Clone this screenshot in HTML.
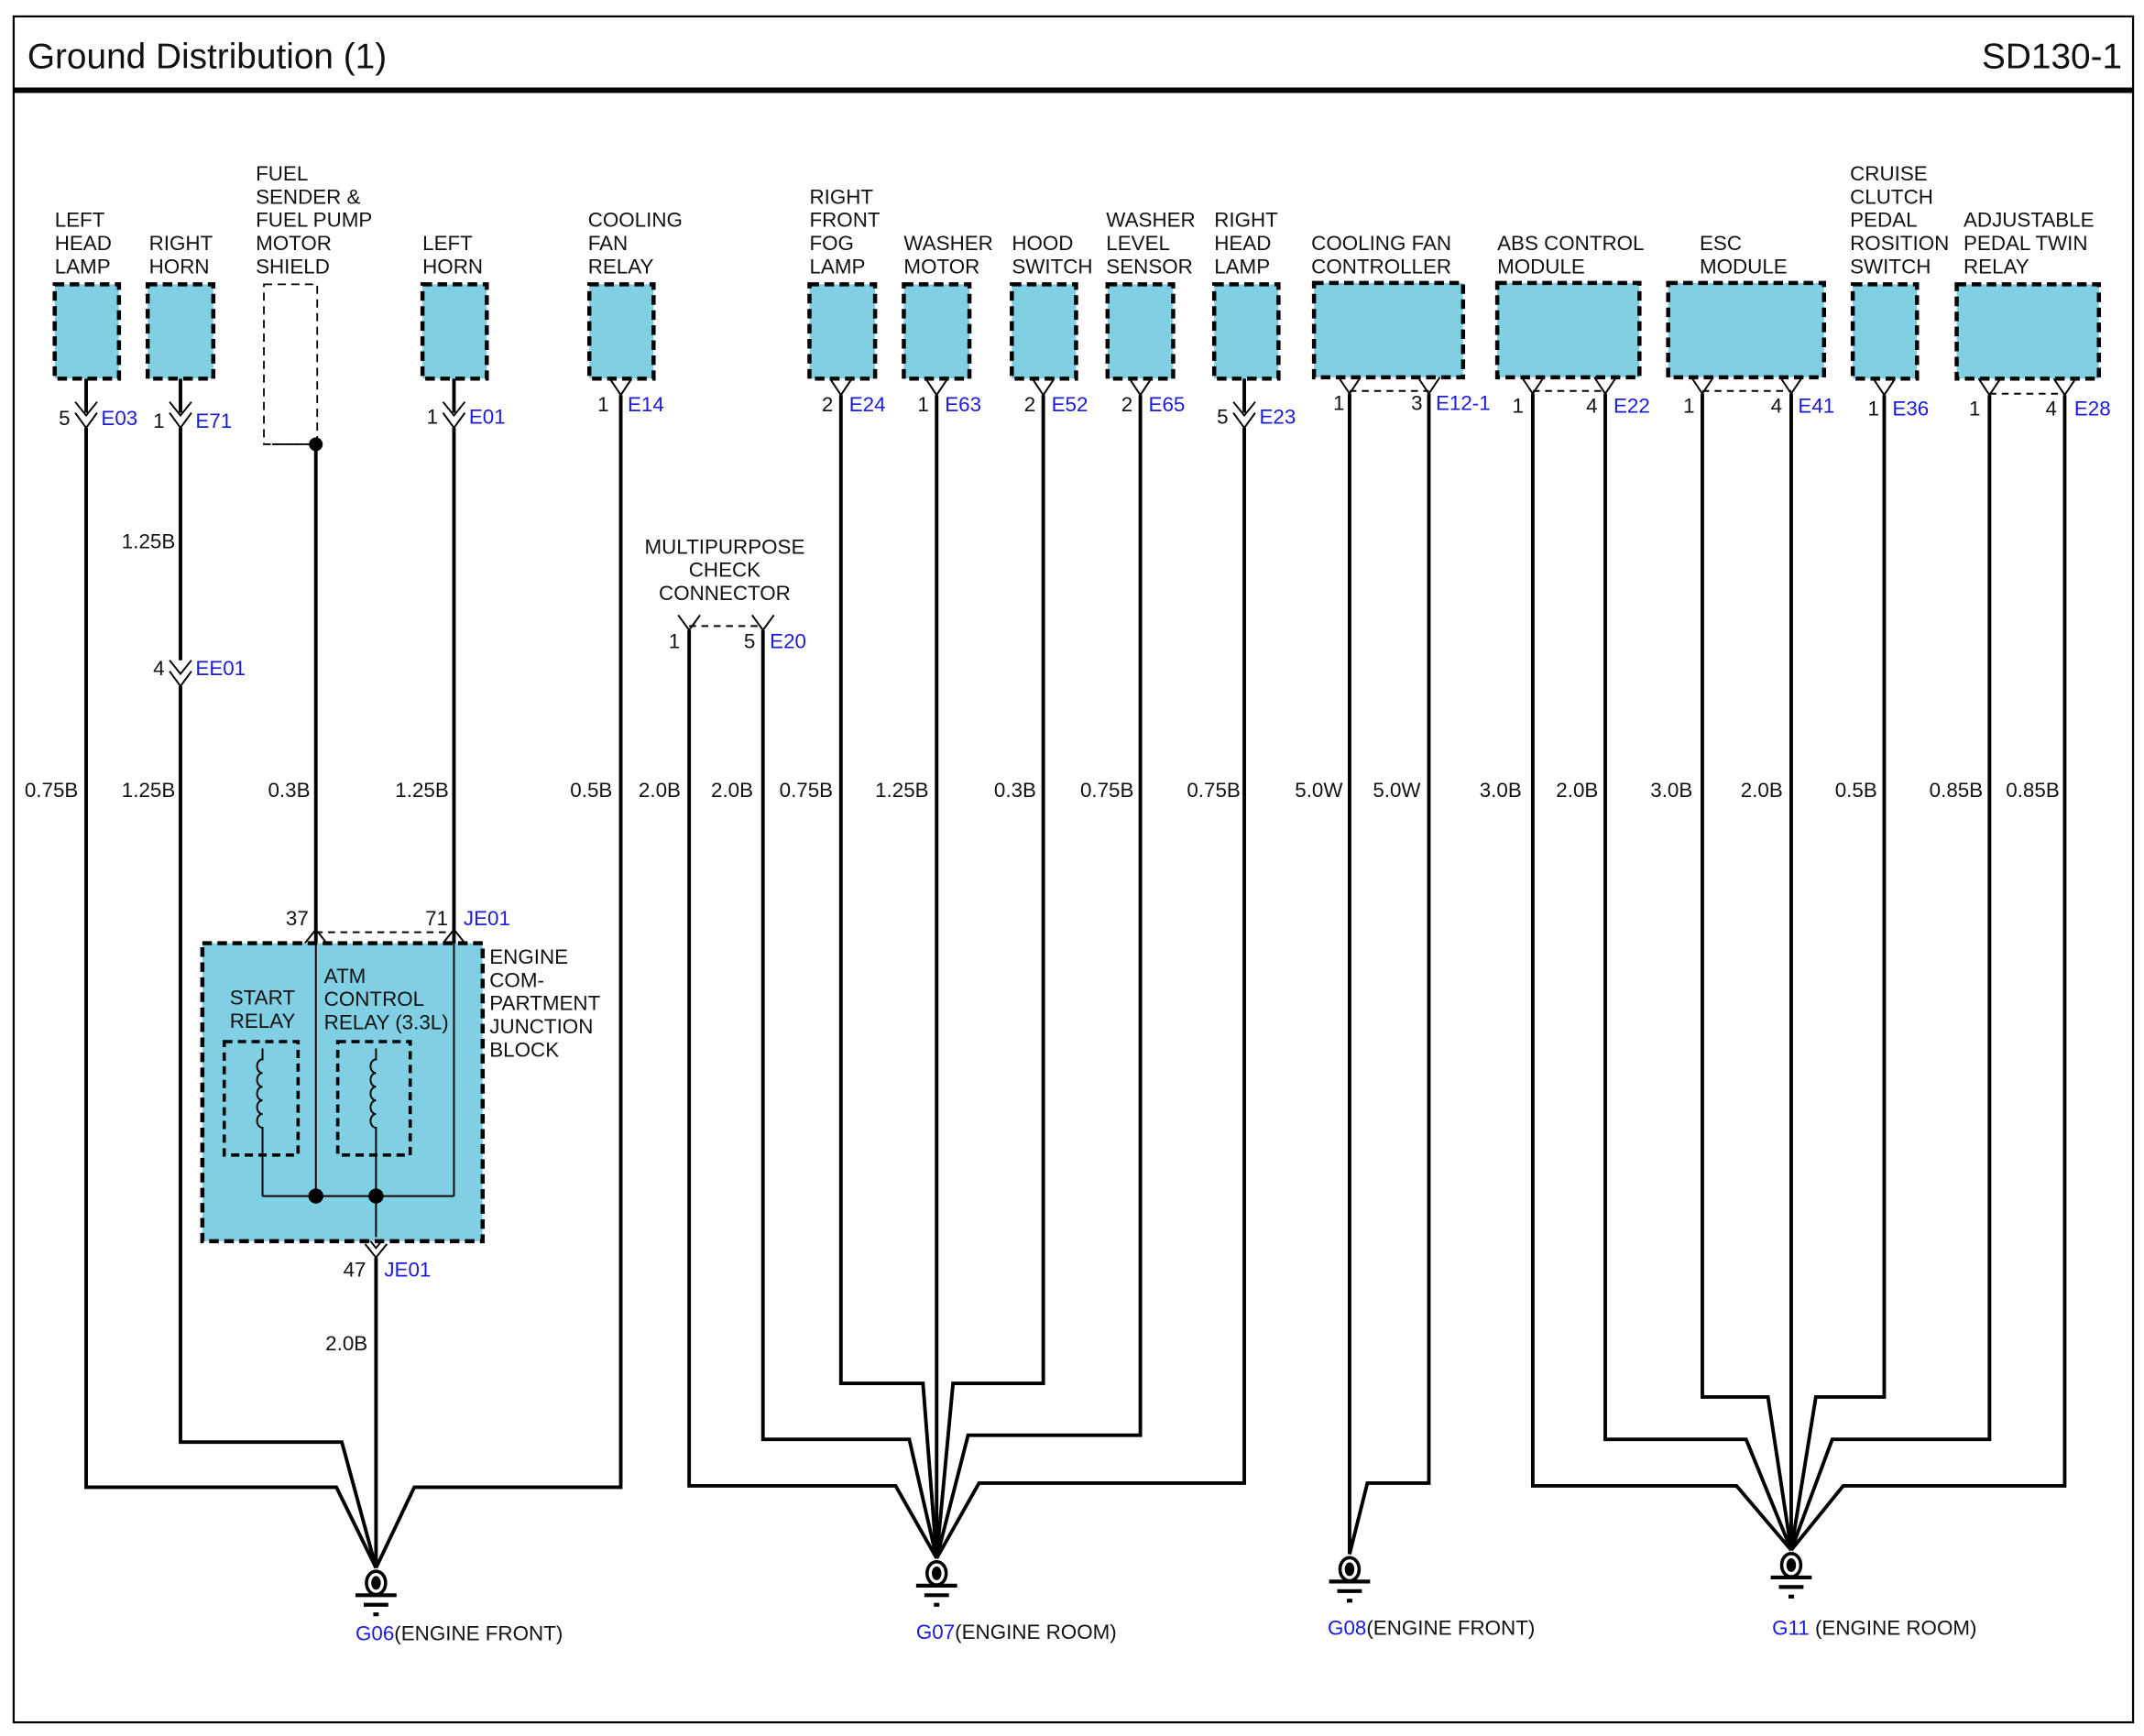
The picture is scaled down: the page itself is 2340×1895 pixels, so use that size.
<!DOCTYPE html>
<html><head><meta charset="utf-8"><style>
html,body{margin:0;padding:0;background:#fff;}
svg{display:block;}
text{font-family:"Liberation Sans",sans-serif;font-size:15px;fill:#111;}
.b{fill:#1a1adc;}
.w{stroke:#000;stroke-width:2.6;fill:none;}
.t{stroke:#000;stroke-width:1.3;fill:none;}
.bx{fill:#80cfe2;stroke:#000;stroke-width:3;stroke-dasharray:7,4;}
.d{stroke:#000;stroke-width:1.3;stroke-dasharray:5,4;fill:none;}
</style></head><body>
<svg width="2340" height="1895" viewBox="0 0 1568 1270" preserveAspectRatio="none" xmlns="http://www.w3.org/2000/svg">
<rect x="10" y="12" width="1550" height="1248" fill="#fff" stroke="#000" stroke-width="1.5"/>
<line x1="10" y1="66" x2="1560" y2="66" stroke="#000" stroke-width="4"/>
<text x="20" y="50" style="font-size:26px">Ground Distribution (1)</text>
<text x="1552" y="50" text-anchor="end" style="font-size:26px">SD130-1</text>

<!-- header labels -->
<g>
<text x="40" y="166">LEFT</text><text x="40" y="183">HEAD</text><text x="40" y="200">LAMP</text>
<text x="109" y="183">RIGHT</text><text x="109" y="200">HORN</text>
<text x="187" y="132">FUEL</text><text x="187" y="149">SENDER &amp;</text><text x="187" y="166">FUEL PUMP</text><text x="187" y="183">MOTOR</text><text x="187" y="200">SHIELD</text>
<text x="309" y="183">LEFT</text><text x="309" y="200">HORN</text>
<text x="430" y="166">COOLING</text><text x="430" y="183">FAN</text><text x="430" y="200">RELAY</text>
<text x="592" y="149">RIGHT</text><text x="592" y="166">FRONT</text><text x="592" y="183">FOG</text><text x="592" y="200">LAMP</text>
<text x="661" y="183">WASHER</text><text x="661" y="200">MOTOR</text>
<text x="740" y="183">HOOD</text><text x="740" y="200">SWITCH</text>
<text x="809" y="166">WASHER</text><text x="809" y="183">LEVEL</text><text x="809" y="200">SENSOR</text>
<text x="888" y="166">RIGHT</text><text x="888" y="183">HEAD</text><text x="888" y="200">LAMP</text>
<text x="959" y="183">COOLING FAN</text><text x="959" y="200">CONTROLLER</text>
<text x="1095" y="183">ABS CONTROL</text><text x="1095" y="200">MODULE</text>
<text x="1243" y="183">ESC</text><text x="1243" y="200">MODULE</text>
<text x="1353" y="132">CRUISE</text><text x="1353" y="149">CLUTCH</text><text x="1353" y="166">PEDAL</text><text x="1353" y="183">ROSITION</text><text x="1353" y="200">SWITCH</text>
<text x="1436" y="166">ADJUSTABLE</text><text x="1436" y="183">PEDAL TWIN</text><text x="1436" y="200">RELAY</text>
</g>

<!-- boxes -->
<rect class="bx" x="40" y="208" width="47" height="69"/>
<rect class="bx" x="108" y="208" width="48" height="69"/>
<rect x="193" y="208" width="39" height="117" fill="none" stroke="#000" stroke-width="1.2" stroke-dasharray="6,4"/>
<rect class="bx" x="309" y="208" width="47" height="69"/>
<rect class="bx" x="431" y="208" width="47" height="69"/>
<rect class="bx" x="592" y="208" width="48" height="69"/>
<rect class="bx" x="661" y="208" width="48" height="69"/>
<rect class="bx" x="740" y="208" width="47" height="69"/>
<rect class="bx" x="810" y="208" width="48" height="69"/>
<rect class="bx" x="888" y="208" width="47" height="69"/>
<rect class="bx" x="961" y="207" width="109" height="69"/>
<rect class="bx" x="1095" y="207" width="104" height="69"/>
<rect class="bx" x="1220" y="207" width="114" height="69"/>
<rect class="bx" x="1355" y="208" width="47" height="69"/>
<rect class="bx" x="1431" y="208" width="104" height="69"/>

<!-- male connectors (arrow + fork) -->
<g class="t" stroke-width="1.6">
<path d="M55,294 L63,304 L71,294 M55,302 L63,313 L71,302"/>
<path d="M124,294 L132,304 L140,294 M124,302 L132,313 L140,302"/>
<path d="M324,294 L332,304 L340,294 M324,302 L332,313 L340,302"/>
<path d="M902,294 L910,304 L918,294 M902,302 L910,313 L918,302"/>
<path d="M124,483 L132,493 L140,483 M124,491 L132,502 L140,491"/>
<!-- female forks at boxes -->
<path d="M446,277 L454,289 L462,277"/>
<path d="M607,277 L615,289 L623,277"/>
<path d="M677,277 L685,289 L693,277"/>
<path d="M755,277 L763,289 L771,277"/>
<path d="M826,277 L834,289 L842,277"/>
<path d="M979,276 L987,288 L995,276 M1037,276 L1045,288 L1053,276"/>
<path d="M1113,276 L1121,288 L1129,276 M1166,276 L1174,288 L1182,276"/>
<path d="M1237,276 L1245,288 L1253,276 M1302,276 L1310,288 L1318,276"/>
<path d="M1370,277 L1378,289 L1386,277"/>
<path d="M1447,277 L1455,289 L1463,277 M1502,277 L1510,289 L1518,277"/>
<path d="M496,450 L504,461 L512,450 M550,450 L558,461 L566,450"/>
<!-- junction block connectors -->
<path d="M223,690 L231,680 L239,690 M223,700 L231,690 L239,700"/>
<path d="M324,690 L332,680 L340,690 M324,700 L332,690 L340,700"/>
<path d="M267,903 L275,913 L283,903 M267,910 L275,920 L283,910"/>
</g>
<g class="d">
<line x1="987" y1="286" x2="1045" y2="286"/><line x1="1121" y1="286" x2="1174" y2="286"/>
<line x1="1245" y1="286" x2="1310" y2="286"/><line x1="1455" y1="288" x2="1510" y2="288"/>
<line x1="504" y1="458" x2="558" y2="458"/><line x1="231" y1="682" x2="332" y2="682"/>
</g>
<g class="t" stroke-width="1.3"><line x1="199" y1="325" x2="231" y2="325" stroke-dasharray="5,4"/></g>
<circle cx="231" cy="325" r="5" fill="#000"/>

<!-- connector labels -->
<g>
<text x="43" y="311">5</text><text x="74" y="311" class="b">E03</text>
<text x="112" y="313">1</text><text x="143" y="313" class="b">E71</text>
<text x="312" y="310">1</text><text x="343" y="310" class="b">E01</text>
<text x="437" y="301">1</text><text x="459" y="301" class="b">E14</text>
<text x="601" y="301">2</text><text x="621" y="301" class="b">E24</text>
<text x="671" y="301">1</text><text x="691" y="301" class="b">E63</text>
<text x="749" y="301">2</text><text x="769" y="301" class="b">E52</text>
<text x="820" y="301">2</text><text x="840" y="301" class="b">E65</text>
<text x="890" y="310">5</text><text x="921" y="310" class="b">E23</text>
<text x="975" y="300">1</text><text x="1032" y="300">3</text><text x="1050" y="300" class="b">E12-1</text>
<text x="1106" y="302">1</text><text x="1160" y="302">4</text><text x="1180" y="302" class="b">E22</text>
<text x="1231" y="302">1</text><text x="1295" y="302">4</text><text x="1315" y="302" class="b">E41</text>
<text x="1366" y="304">1</text><text x="1384" y="304" class="b">E36</text>
<text x="1440" y="304">1</text><text x="1496" y="304">4</text><text x="1517" y="304" class="b">E28</text>
<text x="112" y="494">4</text><text x="143" y="494" class="b">EE01</text>
<text x="89" y="401">1.25B</text>
<text x="530" y="405" text-anchor="middle">MULTIPURPOSE</text><text x="530" y="422" text-anchor="middle">CHECK</text><text x="530" y="439" text-anchor="middle">CONNECTOR</text>
<text x="489" y="474">1</text><text x="544" y="474">5</text><text x="563" y="474" class="b">E20</text>
<text x="209" y="677">37</text><text x="311" y="677">71</text><text x="339" y="677" class="b">JE01</text>
<text x="251" y="934">47</text><text x="281" y="934" class="b">JE01</text>
<text x="238" y="988">2.0B</text>
</g>

<!-- wire gauge labels -->
<g>
<text x="18" y="583">0.75B</text><text x="89" y="583">1.25B</text><text x="196" y="583">0.3B</text>
<text x="289" y="583">1.25B</text><text x="417" y="583">0.5B</text><text x="467" y="583">2.0B</text>
<text x="520" y="583">2.0B</text><text x="570" y="583">0.75B</text><text x="640" y="583">1.25B</text>
<text x="727" y="583">0.3B</text><text x="790" y="583">0.75B</text><text x="868" y="583">0.75B</text>
<text x="947" y="583">5.0W</text><text x="1004" y="583">5.0W</text><text x="1082" y="583">3.0B</text>
<text x="1138" y="583">2.0B</text><text x="1207" y="583">3.0B</text><text x="1273" y="583">2.0B</text>
<text x="1342" y="583">0.5B</text><text x="1411" y="583">0.85B</text><text x="1467" y="583">0.85B</text>
</g>

<!-- junction block -->
<rect class="bx" x="148" y="690" width="205" height="218"/>
<rect x="164" y="762" width="54" height="83" fill="none" stroke="#000" stroke-width="2.4" stroke-dasharray="6,4"/>
<rect x="247" y="762" width="53" height="83" fill="none" stroke="#000" stroke-width="2.4" stroke-dasharray="6,4"/>
<text x="168" y="735">START</text><text x="168" y="752">RELAY</text>
<text x="237" y="719">ATM</text><text x="237" y="736">CONTROL</text><text x="237" y="753">RELAY (3.3L)</text>
<text x="358" y="705">ENGINE</text><text x="358" y="722">COM-</text><text x="358" y="739">PARTMENT</text><text x="358" y="756">JUNCTION</text><text x="358" y="773">BLOCK</text>
<g class="t">
<path d="M231,690 V875 M332,690 V875 M192,875 H332"/>
<path d="M192,767 V775 a4,5 0 0 0 0,10 a4,5 0 0 0 0,10 a4,5 0 0 0 0,10 a4,5 0 0 0 0,10 a4,5 0 0 0 0,10 V875"/>
<path d="M275,767 V775 a4,5 0 0 0 0,10 a4,5 0 0 0 0,10 a4,5 0 0 0 0,10 a4,5 0 0 0 0,10 a4,5 0 0 0 0,10 V875 V905"/>
</g>
<circle cx="231" cy="875" r="5.5" fill="#000"/><circle cx="275" cy="875" r="5.5" fill="#000"/>

<!-- wires -->
<g class="w">
<path d="M63,277 V302 M63,313 V1088 H246 L275,1147"/>
<path d="M132,277 V302 M132,313 V483 M132,502 V1055 H250 L275,1147"/>
<path d="M231,325 V690"/>
<path d="M332,277 V302 M332,313 V690"/>
<path d="M454,289 V1088 H303 L275,1147"/>
<path d="M275,920 V1147"/>
<path d="M504,461 V1087 H655 L685,1140"/>
<path d="M558,461 V1053 H665 L685,1140"/>
<path d="M615,289 V1012 H675 L685,1140"/>
<path d="M685,289 V1140"/>
<path d="M763,289 V1012 H697 L685,1140"/>
<path d="M834,289 V1050 H708 L685,1140"/>
<path d="M910,277 V302 M910,313 V1085 H716 L685,1140"/>
<path d="M987,288 V1137"/>
<path d="M1045,288 V1085 H1000 L987,1137"/>
<path d="M1121,288 V1087 H1270 L1310,1134"/>
<path d="M1174,288 V1053 H1277 L1310,1134"/>
<path d="M1245,288 V1022 H1293 L1310,1134"/>
<path d="M1310,288 V1134"/>
<path d="M1378,289 V1022 H1328 L1310,1134"/>
<path d="M1455,289 V1053 H1340 L1310,1134"/>
<path d="M1510,289 V1087 H1348 L1310,1134"/>
</g>

<!-- grounds -->
<g>
<g transform="translate(275,1158)"><ellipse cx="0" cy="0" rx="7" ry="8.5" fill="#fff" stroke="#000" stroke-width="2.4"/><ellipse cx="0" cy="0" rx="3.5" ry="5" fill="#000"/><line x1="-15" y1="9" x2="15" y2="9" stroke="#000" stroke-width="2.8"/><line x1="-9" y1="16" x2="9" y2="16" stroke="#000" stroke-width="2.8"/><line x1="-2" y1="23" x2="2" y2="23" stroke="#000" stroke-width="2.8"/></g>
<g transform="translate(685,1151)"><ellipse cx="0" cy="0" rx="7" ry="8.5" fill="#fff" stroke="#000" stroke-width="2.4"/><ellipse cx="0" cy="0" rx="3.5" ry="5" fill="#000"/><line x1="-15" y1="9" x2="15" y2="9" stroke="#000" stroke-width="2.8"/><line x1="-9" y1="16" x2="9" y2="16" stroke="#000" stroke-width="2.8"/><line x1="-2" y1="23" x2="2" y2="23" stroke="#000" stroke-width="2.8"/></g>
<g transform="translate(987,1148)"><ellipse cx="0" cy="0" rx="7" ry="8.5" fill="#fff" stroke="#000" stroke-width="2.4"/><ellipse cx="0" cy="0" rx="3.5" ry="5" fill="#000"/><line x1="-15" y1="9" x2="15" y2="9" stroke="#000" stroke-width="2.8"/><line x1="-9" y1="16" x2="9" y2="16" stroke="#000" stroke-width="2.8"/><line x1="-2" y1="23" x2="2" y2="23" stroke="#000" stroke-width="2.8"/></g>
<g transform="translate(1310,1145)"><ellipse cx="0" cy="0" rx="7" ry="8.5" fill="#fff" stroke="#000" stroke-width="2.4"/><ellipse cx="0" cy="0" rx="3.5" ry="5" fill="#000"/><line x1="-15" y1="9" x2="15" y2="9" stroke="#000" stroke-width="2.8"/><line x1="-9" y1="16" x2="9" y2="16" stroke="#000" stroke-width="2.8"/><line x1="-2" y1="23" x2="2" y2="23" stroke="#000" stroke-width="2.8"/></g>
<text x="260" y="1200"><tspan class="b">G06</tspan>(ENGINE FRONT)</text>
<text x="670" y="1199"><tspan class="b">G07</tspan>(ENGINE ROOM)</text>
<text x="971" y="1196"><tspan class="b">G08</tspan>(ENGINE FRONT)</text>
<text x="1296" y="1196"><tspan class="b">G11</tspan> (ENGINE ROOM)</text>
</g>
</svg>
</body></html>
